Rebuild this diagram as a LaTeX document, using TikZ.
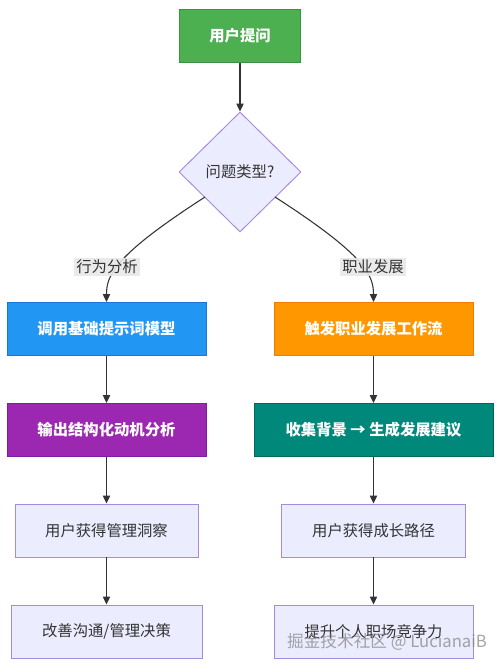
\documentclass[tikz,border=0pt]{standalone}
\usepackage{fontspec}
\setmainfont{Noto Sans CJK SC}
\usetikzlibrary{shapes.geometric,arrows.meta}
\definecolor{cgreen}{HTML}{4CAF50}\definecolor{cgreenB}{HTML}{3E9142}
\definecolor{cblue}{HTML}{2196F3}\definecolor{cblueB}{HTML}{1976D2}
\definecolor{corange}{HTML}{FF9800}\definecolor{corangeB}{HTML}{F57C00}
\definecolor{cpurple}{HTML}{9C27B0}\definecolor{cpurpleB}{HTML}{7B1FA2}
\definecolor{cteal}{HTML}{00897B}\definecolor{ctealB}{HTML}{00695C}
\definecolor{lav}{HTML}{ECECFF}\definecolor{lavB}{HTML}{A38BE0}
\definecolor{txt}{HTML}{333333}\definecolor{lblbg}{HTML}{E8E8E8}
\tikzset{
  box/.style={rectangle, minimum height=53*0.75pt, inner sep=0pt, line width=0.7pt, font=\fontsize{11.5}{13}\selectfont},
  cbox/.style={box, text=white, font=\fontsize{11.5}{13}\selectfont\bfseries},
  lbox/.style={box, fill=lav, draw=lavB, text=txt},
  arr/.style={draw=txt, line width=0.8pt, -{Triangle[length=6pt,width=5.5pt]}},
  elabel/.style={fill=lblbg, fill opacity=0.9, text opacity=1, text=txt, inner sep=1.5pt, font=\fontsize{11.5}{13}\selectfont}
}
\begin{document}
\begin{tikzpicture}[x=0.75pt,y=-0.75pt]
\useasboundingbox (0,0) rectangle (500,668);
\fill[white] (0,0) rectangle (500,668);
\node[cbox, fill=cgreen, draw=cgreenB, minimum width=121*0.75pt] (q) at (240,36) {用户提问};
\node[diamond, fill=lav, draw=lavB, line width=0.7pt, minimum width=122*0.75pt, minimum height=120*0.75pt, inner sep=0pt, text=txt, font=\fontsize{11.5}{13}\selectfont] (t) at (240,172) {问题类型?};
\node[cbox, fill=cblue, draw=cblueB, minimum width=199*0.75pt] (a1) at (106.5,329) {调用基础提示词模型};
\node[cbox, fill=corange, draw=corangeB, minimum width=199*0.75pt] (b1) at (373.5,329) {触发职业发展工作流};
\node[cbox, fill=cpurple, draw=cpurpleB, minimum width=199*0.75pt] (a2) at (106.5,430) {输出结构化动机分析};
\node[cbox, fill=cteal, draw=ctealB, minimum width=239*0.75pt] (b2) at (373.5,430) {收集背景 → 生成发展建议};
\node[lbox, minimum width=183*0.75pt] (a3) at (106.5,530.5) {用户获得管理洞察};
\node[lbox, minimum width=184*0.75pt] (b3) at (373.5,530.5) {用户获得成长路径};
\node[lbox, minimum width=191*0.75pt] (a4) at (106.5,631.5) {改善沟通/管理决策};
\node[lbox, minimum width=199*0.75pt] (b4) at (373.5,631.5) {提升个人职场竞争力};
\coordinate (ts1) at (205,197);
\coordinate (ts2) at (275,197);
\draw[arr] (q) -- (t);
\draw[arr] (ts1) .. controls (115,255) and (106.5,275) .. (a1.north);
\draw[arr] (ts2) .. controls (365,255) and (373.5,275) .. (b1.north);
\node[elabel] (l1) at (107,267) {行为分析};
\node[elabel] (l2) at (373,267) {职业发展};
\draw[arr] (a1) -- (a2);
\draw[arr] (a2) -- (a3);
\draw[arr] (a3) -- (a4);
\draw[arr] (b1) -- (b2);
\draw[arr] (b2) -- (b3);
\draw[arr] (b3) -- (b4);
\node[text=gray, opacity=0.7, font=\fontsize{12.5}{15}\selectfont] (wm) at (387,642) {掘金技术社区 @ LucianaiB};
\end{tikzpicture}
\end{document}
